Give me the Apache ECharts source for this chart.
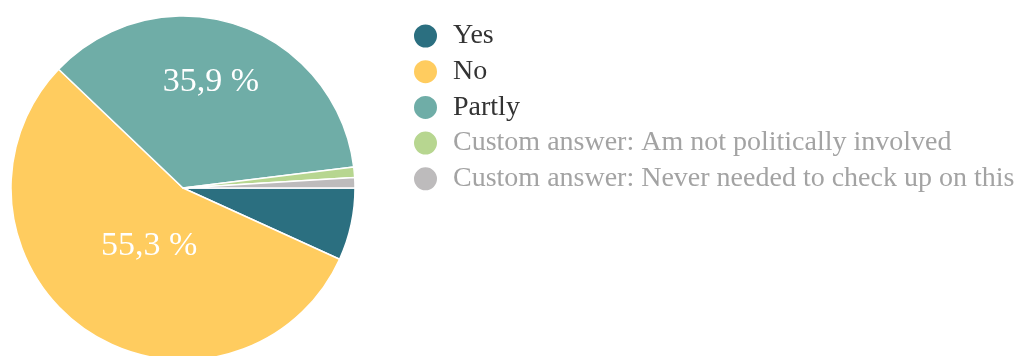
<!DOCTYPE html>
<html>
<head>
<meta charset="utf-8">
<title>Survey answers</title>
<script src="https://cdn.jsdelivr.net/npm/echarts@6/dist/echarts.min.js"></script>
<style>
  html, body { margin: 0; padding: 0; background: #ffffff; }
  #chart { width: 1025px; height: 356px; }
</style>
</head>
<body>
<div id="chart"></div>
<script>
// Answers and number of respondents per answer
const categories = [
  'Yes',
  'No',
  'Partly',
  'Custom answer: Am not politically involved',
  'Custom answer: Never needed to check up on this'
];
const counts = [7, 57, 37, 1, 1];

// Slice colours, legend text colours and label nudges
const sliceColors = ['#2b6f80', '#ffcc5f', '#6fada7', '#b7d690', '#bdbbbc'];
const legendTextColors = ['#333333', '#333333', '#333333', '#a3a3a3', '#a3a3a3'];
const labelOffsets = [[0, 0], [16, -16], [0, -21], [0, 0], [0, 0]];
const labelMinPercent = 10;

const FONT = '"Liberation Serif", "DejaVu Serif", serif';
const total = counts.reduce((a, b) => a + b, 0);

const pieData = categories.map((name, i) => {
  const pct = counts[i] / total * 100;
  return {
    name: name,
    value: counts[i],
    itemStyle: { color: sliceColors[i] },
    label: {
      show: pct >= labelMinPercent,
      offset: labelOffsets[i]
    }
  };
});

const chart = echarts.init(document.getElementById('chart'), null, { renderer: 'canvas' });
chart.setOption({
  animation: false,
  legend: {
    orient: 'vertical',
    left: 412,
    top: 22,
    padding: 0,
    icon: 'circle',
    itemWidth: 25,
    itemHeight: 25,
    itemGap: 7.7,
    selectedMode: false,
    data: categories.map((name, i) => ({
      name: name,
      textStyle: { color: legendTextColors[i] }
    })),
    textStyle: {
      fontFamily: FONT,
      fontSize: 28,
      padding: [0, 0, 0, 10]
    }
  },
  series: [{
    type: 'pie',
    center: [183, 188],
    radius: [0, 172],
    startAngle: 0,
    clockwise: true,
    avoidLabelOverlap: false,
    emphasis: { disabled: true },
    itemStyle: { borderColor: '#ffffff', borderWidth: 1.5 },
    label: {
      position: 'inside',
      color: '#ffffff',
      fontFamily: FONT,
      fontSize: 34,
      formatter: p => p.percent.toFixed(1).replace('.', ',') + ' %'
    },
    labelLine: { show: false },
    data: pieData
  }]
});
</script>
</body>
</html>
